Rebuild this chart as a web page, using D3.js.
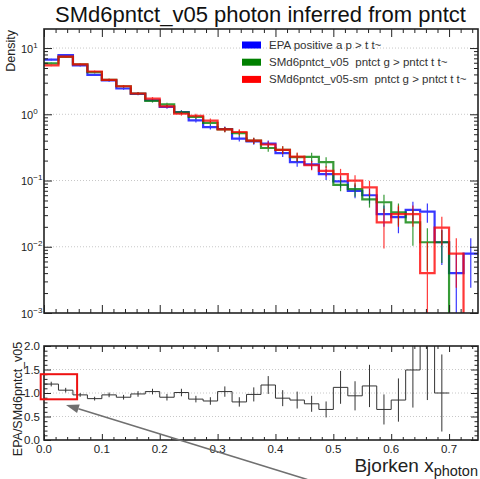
<!DOCTYPE html>
<html>
<head>
<meta charset="utf-8">
<script src="https://cdn.jsdelivr.net/npm/d3@7"></script>
<style>
  body { margin: 0; background: #fff; }
  svg { display: block; font-family: "Liberation Sans", Arial, sans-serif; }
  text { white-space: pre; }
</style>
</head>
<body>
<svg id="chart" width="480" height="479"></svg>
<script>
// ---- binning (x = Bjorken x of the photon) ----
const binLow = [0.000, 0.025, 0.050, 0.075, 0.100, 0.125, 0.150, 0.175, 0.200, 0.225,
                0.250, 0.275, 0.300, 0.325, 0.350, 0.375, 0.400, 0.425, 0.450, 0.475,
                0.500, 0.525, 0.550, 0.575, 0.600, 0.625, 0.650, 0.675, 0.700, 0.725];
const binWidth = 0.025;

// ---- densities per bin ----
const epaValues = [6.7, 7.8, 5.45, 3.94, 3.24, 2.45, 2.04, 1.63, 1.29, 1.08,
                   0.81, 0.64, 0.60, 0.43, 0.39, 0.36, 0.26, 0.19, 0.175, 0.125,
                   0.097, 0.070, 0.060, 0.031, 0.028, 0.036, 0.034, 0.0117, 0.004, 0.0079];
const epaErrors = [0.20, 0.23, 0.16, 0.14, 0.13, 0.11, 0.10, 0.09, 0.077, 0.07,
                   0.061, 0.051, 0.054, 0.043, 0.043, 0.043, 0.034, 0.029, 0.028, 0.023,
                   0.019, 0.016, 0.015, 0.011, 0.012, 0.012, 0.011, 0.0064, 0.004, 0.0055];

const v05Values = [5.86, 7.35, 5.7, 4.33, 3.31, 2.65, 2.06, 1.59, 1.41, 1.07,
                   0.91, 0.74, 0.59, 0.52, 0.40, 0.31, 0.29, 0.225, 0.227, 0.19,
                   0.086, 0.074, 0.052, 0.047, 0.033, 0.0234, 0.0117, 0.0117, 0, 0];
const v05Errors = [0.18, 0.22, 0.17, 0.15, 0.13, 0.12, 0.10, 0.088, 0.085, 0.07,
                   0.068, 0.059, 0.053, 0.052, 0.044, 0.037, 0.038, 0.034, 0.036, 0.034,
                   0.017, 0.017, 0.013, 0.014, 0.012, 0.013, 0.0073, 0.006, 0, 0];

const v05smValues = [5.46, 7.4, 5.66, 4.43, 3.31, 2.65, 2.06, 1.73, 1.32, 1.02,
                     0.95, 0.80, 0.59, 0.54, 0.40, 0.35, 0.29, 0.23, 0.17, 0.14,
                     0.125, 0.10, 0.079, 0.0234, 0.031, 0.031, 0.004, 0.0195, 0.0079, 0];
const v05smErrors = [0.16, 0.22, 0.17, 0.16, 0.13, 0.12, 0.10, 0.095, 0.08, 0.066,
                     0.071, 0.064, 0.053, 0.054, 0.044, 0.042, 0.038, 0.035, 0.027, 0.025,
                     0.025, 0.02, 0.02, 0.014, 0.011, 0.011, 0.0078, 0.009, 0.0055, 0];

// ---- ratio EPA / SMd6pntct_v05 (null where the denominator is empty) ----
const ratioValues = [1.19, 1.06, 0.96, 0.88, 0.96, 0.91, 0.98, 1.03, 0.91, 1.01,
                     0.87, 0.83, 1.03, 0.81, 0.97, 1.17, 0.89, 0.85, 0.77, 0.65,
                     1.12, 0.94, 1.15, 0.65, 0.85, 1.49, 2.9, 1.0, null, null];
const ratioErrors = [0.05, 0.05, 0.04, 0.04, 0.05, 0.05, 0.06, 0.06, 0.07, 0.08,
                     0.07, 0.08, 0.11, 0.10, 0.15, 0.19, 0.17, 0.18, 0.17, 0.17,
                     0.35, 0.31, 0.45, 0.32, 0.46, 0.80, 2.05, 0.82, null, null];

// ---- labels ----
const seriesNames = ["EPA positive a p > t t~",
                     "SMd6pntct_v05  pntct g > pntct t t~",
                     "SMd6pntct_v05-sm  pntct g > pntct t t~"];
const seriesColors = ["#0000ff", "#008000", "#ff0000"];
const xTickLabels = ["0.0", "0.1", "0.2", "0.3", "0.4", "0.5", "0.6", "0.7"];
const xTickValues = [0, 0.1, 0.2, 0.3, 0.4, 0.5, 0.6, 0.7];
const decadeExponents = [-3, -2, -1, 0, 1];
const ratioTickLabels = ["0.0", "0.5", "1.0", "1.5", "2.0"];
const ratioTickValues = [0, 0.5, 1.0, 1.5, 2.0];

const titleText = "SMd6pntct_v05 photon inferred from pntct";

// ---- layout ----
const svg = d3.select("#chart");
const W = 480, H = 479;
const left = 44, right = 478;
const top1 = 29, bot1 = 313;
const top2 = 346, bot2 = 440;
const ink = "#222";

const x = d3.scaleLinear().domain([0, 0.75]).range([left, right]);
const yTop = d3.scaleLog().domain([1e-3, 19.4]).range([bot1, top1]);
const yBot = d3.scaleLinear().domain([0, 2]).range([bot2, top2]);

svg.append("rect").attr("width", W).attr("height", H).attr("fill", "#fff");

const defs = svg.append("defs");
defs.append("clipPath").attr("id", "clipTop").append("rect")
  .attr("x", left).attr("y", top1).attr("width", right - left).attr("height", bot1 - top1);
defs.append("clipPath").attr("id", "clipBot").append("rect")
  .attr("x", left).attr("y", top2).attr("width", right - left).attr("height", bot2 - top2);

// ---- grid lines ----
const gTop = svg.append("g");
gTop.selectAll("line.grid").data(decadeExponents.filter(e => e > -3)).join("line")
  .attr("x1", left).attr("x2", right)
  .attr("y1", e => yTop(Math.pow(10, e))).attr("y2", e => yTop(Math.pow(10, e)))
  .attr("stroke", "#c8c8c8").attr("stroke-width", 1).attr("stroke-dasharray", "1,2");

const gBot = svg.append("g");
gBot.selectAll("line.grid").data([0.5, 1.0, 1.5]).join("line")
  .attr("x1", left).attr("x2", right)
  .attr("y1", d => yBot(d)).attr("y2", d => yBot(d))
  .attr("stroke", "#c8c8c8").attr("stroke-width", 1).attr("stroke-dasharray", "1,2");

// ---- step outline of a histogram ----
function stepPath(values, yScale, floorY) {
  let d = "";
  let started = false;
  values.forEach((v, i) => {
    if (v === null) { started = false; return; }
    const yy = v > 0 ? yScale(v) : floorY;
    const x0 = x(binLow[i]), x1 = x(binLow[i] + binWidth);
    if (!started) { d += `M${x0},${yy}`; started = true; }
    else d += `V${yy}`;
    d += `H${x1}`;
  });
  return d;
}

// ---- upper pad: three histograms ----
const hists = [
  { values: epaValues, errors: epaErrors, color: seriesColors[0] },
  { values: v05Values, errors: v05Errors, color: seriesColors[1] },
  { values: v05smValues, errors: v05smErrors, color: seriesColors[2] }
];
const plotTop = svg.append("g").attr("clip-path", "url(#clipTop)");
hists.forEach(h => {
  const g = plotTop.append("g").attr("opacity", 0.78);
  g.append("path")
    .attr("d", stepPath(h.values, yTop, bot1 + 2))
    .attr("fill", "none").attr("stroke", h.color).attr("stroke-width", 2.2);
  const pts = h.values.map((v, i) => ({ v, e: h.errors[i], i })).filter(p => p.v > 0);
  g.selectAll("line.err").data(pts).join("line")
    .attr("x1", p => x(binLow[p.i] + binWidth / 2))
    .attr("x2", p => x(binLow[p.i] + binWidth / 2))
    .attr("y1", p => yTop(p.v + p.e))
    .attr("y2", p => (p.v - p.e > 1e-3 ? yTop(p.v - p.e) : bot1 + 2))
    .attr("stroke", h.color).attr("stroke-width", 1.2);
});

// ---- lower pad: ratio ----
const plotBot = svg.append("g").attr("clip-path", "url(#clipBot)");
plotBot.append("path")
  .attr("d", stepPath(ratioValues, yBot, bot2))
  .attr("fill", "none").attr("stroke", "#333").attr("stroke-width", 1);
const rpts = ratioValues.map((v, i) => ({ v, e: ratioErrors[i], i })).filter(p => p.v !== null);
plotBot.selectAll("line.err").data(rpts).join("line")
  .attr("x1", p => x(binLow[p.i] + binWidth / 2))
  .attr("x2", p => x(binLow[p.i] + binWidth / 2))
  .attr("y1", p => yBot(p.v + p.e))
  .attr("y2", p => yBot(p.v - p.e))
  .attr("stroke", "#333").attr("stroke-width", 1);

// ---- ticks (inside the frame on all four sides) ----
const xMinor = d3.range(0, 38).filter(i => i % 5 !== 0).map(i => i * 0.02);
const logMinor = [];
decadeExponents.forEach(e => {
  for (let k = 2; k <= 9; k++) {
    const v = k * Math.pow(10, e);
    if (v < 19.4) logMinor.push(v);
  }
});
const ratioMinor = d3.range(0, 21).filter(i => i % 5 !== 0).map(i => i * 0.1);

function tickAxis(axis, translate, vals, size) {
  const g = svg.append("g").attr("transform", translate)
    .call(axis.tickValues(vals).tickSize(size).tickFormat(""));
  g.select(".domain").remove();
  g.selectAll("line").attr("stroke", ink).attr("stroke-width", 1);
}
// upper pad
tickAxis(d3.axisBottom(x), `translate(0,${bot1})`, xTickValues, -8);
tickAxis(d3.axisBottom(x), `translate(0,${bot1})`, xMinor, -4);
tickAxis(d3.axisTop(x), `translate(0,${top1})`, xTickValues, -8);
tickAxis(d3.axisTop(x), `translate(0,${top1})`, xMinor, -4);
tickAxis(d3.axisLeft(yTop), `translate(${left},0)`, decadeExponents.map(e => Math.pow(10, e)), -8);
tickAxis(d3.axisLeft(yTop), `translate(${left},0)`, logMinor, -4);
tickAxis(d3.axisRight(yTop), `translate(${right},0)`, decadeExponents.map(e => Math.pow(10, e)), -8);
tickAxis(d3.axisRight(yTop), `translate(${right},0)`, logMinor, -4);
// lower pad
tickAxis(d3.axisBottom(x), `translate(0,${bot2})`, xTickValues, -6);
tickAxis(d3.axisBottom(x), `translate(0,${bot2})`, xMinor, -3);
tickAxis(d3.axisTop(x), `translate(0,${top2})`, xTickValues, -6);
tickAxis(d3.axisTop(x), `translate(0,${top2})`, xMinor, -3);
tickAxis(d3.axisLeft(yBot), `translate(${left},0)`, ratioTickValues, -7);
tickAxis(d3.axisLeft(yBot), `translate(${left},0)`, ratioMinor, -3.5);
tickAxis(d3.axisRight(yBot), `translate(${right},0)`, ratioTickValues, -7);
tickAxis(d3.axisRight(yBot), `translate(${right},0)`, ratioMinor, -3.5);

// ---- frames ----
[[top1, bot1], [top2, bot2]].forEach(([t, b]) => {
  svg.append("rect").attr("x", left).attr("y", t)
    .attr("width", right - left).attr("height", b - t)
    .attr("fill", "none").attr("stroke", ink).attr("stroke-width", 1.6);
});

// ---- tick labels ----
const decLabels = svg.append("g").attr("fill", ink);
decadeExponents.forEach(e => {
  const t = decLabels.append("text")
    .attr("x", 21).attr("y", yTop(Math.pow(10, e)) + 4.5)
    .attr("font-size", 11);
  t.append("tspan").text("10");
  t.append("tspan").attr("font-size", 8).attr("dy", -5)
    .text(e < 0 ? "\u2212" + Math.abs(e) : String(e));
});

svg.append("g").selectAll("text").data(ratioTickValues).join("text")
  .attr("x", 40).attr("y", d => yBot(d) + 4)
  .attr("text-anchor", "end").attr("font-size", 11.5).attr("fill", ink)
  .text((d, i) => ratioTickLabels[i]);

svg.append("g").selectAll("text").data(xTickValues).join("text")
  .attr("x", d => x(d)).attr("y", bot2 + 13)
  .attr("text-anchor", "middle").attr("font-size", 11.5).attr("fill", ink)
  .text((d, i) => xTickLabels[i]);

// ---- axis titles ----
svg.append("text")
  .attr("transform", `translate(15,30) rotate(-90)`)
  .attr("text-anchor", "end").attr("font-size", 12.5).attr("fill", ink)
  .text("Density");

svg.append("text")
  .attr("transform", `translate(22,${(top2 + bot2) / 2 + 6}) rotate(-90)`)
  .attr("text-anchor", "middle").attr("font-size", 12.5).attr("fill", ink)
  .text("EPA/SMd6pntct_v05");

const xTitle = svg.append("text")
  .attr("x", right).attr("y", 472).attr("text-anchor", "end").attr("fill", ink);
xTitle.append("tspan").attr("font-size", 19).text("Bjorken x");
xTitle.append("tspan").attr("font-size", 14.5).attr("dy", 4).text("photon");

// ---- title ----
svg.append("text")
  .attr("x", 260.5).attr("y", 22).attr("text-anchor", "middle")
  .attr("font-size", 22).attr("fill", "#111")
  .text(titleText);

// ---- legend ----
const legend = svg.append("g");
seriesNames.forEach((name, i) => {
  const cy = 45 + i * 17.2;
  legend.append("rect").attr("x", 242).attr("y", cy - 3.5)
    .attr("width", 19).attr("height", 7).attr("fill", seriesColors[i]);
  legend.append("text").attr("x", 269).attr("y", cy + 4)
    .attr("font-size", 11.5).attr("fill", "#333").text(name);
});

// ---- annotation: box round the first ratio bins and a pointer to it ----
const boxRange = { x0: -0.0057, x1: 0.0572, y0: 0.866, y1: 1.40 };
svg.append("rect")
  .attr("x", x(boxRange.x0)).attr("y", yBot(boxRange.y1))
  .attr("width", x(boxRange.x1) - x(boxRange.x0))
  .attr("height", yBot(boxRange.y0) - yBot(boxRange.y1))
  .attr("fill", "none").attr("stroke", "#ee1111").attr("stroke-width", 2);

const arrowFrom = { x: 0.455, y: -0.84 }, arrowTo = { x: 0.038, y: 0.745 };
const ax0 = x(arrowFrom.x), ay0 = yBot(arrowFrom.y);
const ax1 = x(arrowTo.x), ay1 = yBot(arrowTo.y);
const ang = Math.atan2(ay1 - ay0, ax1 - ax0);
const headLen = 13, headHalf = 4.5;
const bx = ax1 - headLen * Math.cos(ang), by = ay1 - headLen * Math.sin(ang);
svg.append("line")
  .attr("x1", ax0).attr("y1", ay0).attr("x2", bx).attr("y2", by)
  .attr("stroke", "#707070").attr("stroke-width", 1.6);
svg.append("path")
  .attr("d", `M${ax1},${ay1}L${bx - headHalf * Math.sin(ang)},${by + headHalf * Math.cos(ang)}` +
             `L${bx + headHalf * Math.sin(ang)},${by - headHalf * Math.cos(ang)}Z`)
  .attr("fill", "#707070");
</script>
</body>
</html>
